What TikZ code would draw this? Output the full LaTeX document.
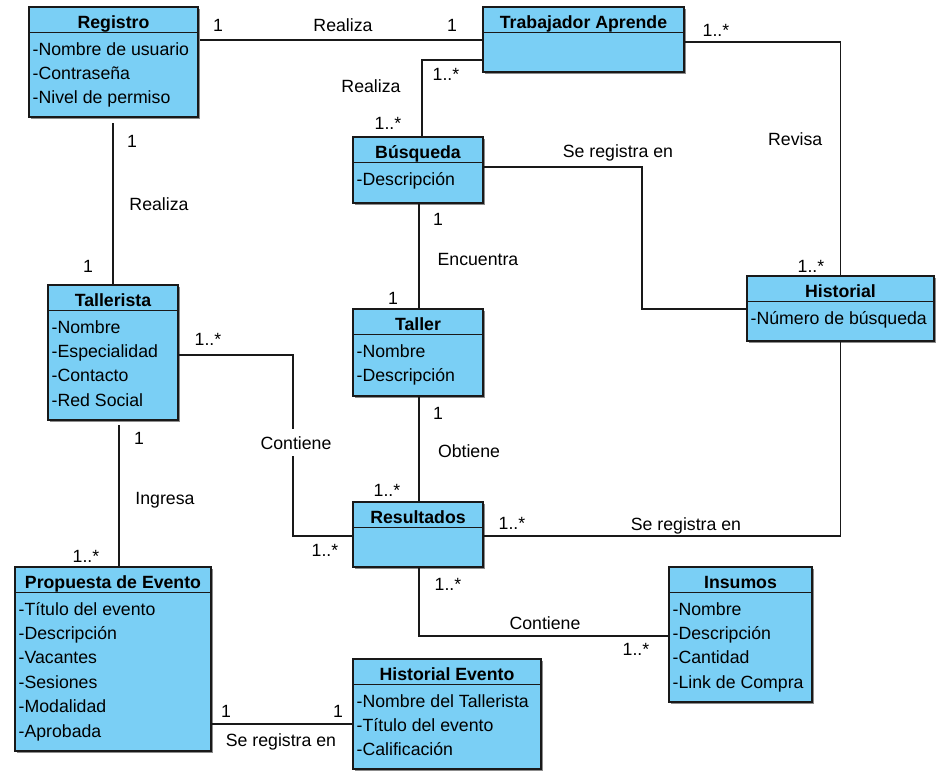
\documentclass[tikz,border=0pt]{standalone}
\usepackage{fontspec}
\setmainfont{Liberation Sans}
\usetikzlibrary{calc,shadows}
\definecolor{clsfill}{RGB}{122,207,245}
\definecolor{edgecol}{RGB}{25,25,25}
\tikzset{
  cls/.style={draw=edgecol, fill=clsfill, line width=1.2pt, inner sep=0pt, outer sep=0pt,
    drop shadow={shadow xshift=1.6pt, shadow yshift=-1.6pt, fill=black!45, opacity=1}},
  ttl/.style={anchor=base, inner sep=0pt, font=\fontsize{17.7}{21}\selectfont\bfseries},
  att/.style={anchor=base west, inner sep=0pt},
  lbl/.style={anchor=base, inner sep=0pt},
  conn/.style={draw=edgecol, line width=1.2pt},
}
\newcommand{\umlbox}[6]{%
  \node[cls, minimum width={#4-#2}, minimum height={#5-#3}, anchor=north west] (#1) at (#2,#3) {};
  \draw[edgecol, line width=1.1pt] ([shift={(0,25.5)}]#1.north west) -- ([shift={(0,25.5)}]#1.north east);
  \node[ttl] (#1t) at ([shift={(0,21)}]#1.north) {#6};
}
\newcommand{\umlattrs}[2]{%
  \foreach \myattr [count=\myi] in {#2} {
    \node[att] (#1a\myi) at ([shift={(3.5,{48+24.4*(\myi-1)})}]#1.north west) {\myattr};
  }%
}
\newcommand{\lab}[4]{\node[lbl] (#1) at (#2,#3) {#4};}
\begin{document}
\begin{tikzpicture}[x=1pt,y=-1pt, font=\fontsize{17.7}{21}\selectfont]
\useasboundingbox (0,0) rectangle (943,774);

% classes
\umlbox{reg}{29}{7}{198}{117}{Registro}
\umlattrs{reg}{-Nombre de usuario,-Contraseña,-Nivel de permiso}
\umlbox{trab}{483}{7}{684}{72}{Trabajador Aprende}
\umlbox{busq}{353}{137}{483}{203}{Búsqueda}
\umlattrs{busq}{-Descripción}
\umlbox{hist}{747}{276}{934}{341}{Historial}
\umlattrs{hist}{-Número de búsqueda}
\umlbox{tal}{48}{285}{178}{420}{Tallerista}
\umlattrs{tal}{-Nombre,-Especialidad,-Contacto,-Red Social}
\umlbox{taller}{353}{309}{483}{396}{Taller}
\umlattrs{taller}{-Nombre,-Descripción}
\umlbox{res}{353}{502}{483}{567}{Resultados}
\umlbox{prop}{15}{567}{211}{751}{Propuesta de Evento}
\umlattrs{prop}{-Título del evento,-Descripción,-Vacantes,-Sesiones,-Modalidad,-Aprobada}
\umlbox{hev}{353}{659}{541}{769}{Historial Evento}
\umlattrs{hev}{-Nombre del Tallerista,-Título del evento,-Calificación}
\umlbox{ins}{669}{567}{812}{702}{Insumos}
\umlattrs{ins}{-Nombre,-Descripción,-Cantidad,-Link de Compra}

% connectors
\draw[conn] ([shift={(2,33)}]reg.north east) -- ([shift={(0,33)}]trab.north west);
\draw[conn] ([shift={(0,53)}]trab.north west) -| ([shift={(69,0)}]busq.north west);
\draw[conn] ([shift={(0,35)}]trab.north east) -| (hist.north);
\draw[conn] ([shift={(0,30)}]busq.north east) -- ++(159,0) |- ([shift={(0,33)}]hist.north west);
\draw[conn] ([shift={(66,0)}]busq.south west) -- ([shift={(66,0)}]taller.north west);
\draw[conn] ([shift={(66,0)}]taller.south west) -- ([shift={(66,0)}]res.north west);
\draw[conn] ([shift={(0,34)}]res.north east) -| (hist.south);
\draw[conn] ([shift={(66,0)}]res.south west) |- ([shift={(0,69)}]ins.north west);
\draw[conn] ($(tal.north |- reg.south)+(0,6)$) -- (tal.north);
\draw[conn] ([shift={(71,5)}]tal.south west) -- ([shift={(104,0)}]prop.north west);
\draw[conn] ([shift={(0,70)}]tal.north east) -- ++(115,0) |- ([shift={(0,34)}]res.north west);
\draw[conn] ([shift={(0,157)}]prop.north east) -- ([shift={(0,65)}]hev.north west);

% labels
\lab{l1}{218}{31}{1}
\lab{l2}{343}{31}{Realiza}
\lab{l3}{452}{31}{1}
\lab{l4}{446}{80}{1..*}
\lab{l5}{371}{92}{Realiza}
\lab{l6}{388}{129}{1..*}
\lab{l7}{716}{36}{1..*}
\node[anchor=base west, inner xsep=0pt, inner ysep=7pt, fill=white] (l8) at (768,145) {Revisa\kern18pt};
\lab{l9}{811}{272}{1..*}
\lab{l10}{618}{157}{Se registra en}
\lab{l11}{438}{225}{1}
\lab{l12}{478}{265}{Encuentra}
\lab{l13}{393}{304}{1}
\lab{l14}{438}{419}{1}
\lab{l15}{469}{457}{Obtiene}
\lab{l16}{387}{496}{1..*}
\lab{l17}{512}{529}{1..*}
\lab{l18}{686}{530}{Se registra en}
\lab{l19}{448}{590}{1..*}
\lab{l20}{545}{629}{Contiene}
\lab{l21}{636}{655}{1..*}
\lab{l22}{132}{147}{1}
\lab{l23}{159}{210}{Realiza}
\lab{l24}{88}{272}{1}
\lab{l25}{139}{444}{1}
\lab{l26}{165}{504}{Ingresa}
\lab{l27}{86}{562}{1..*}
\lab{l28}{208}{345}{1..*}
\node[anchor=base, inner xsep=0pt, inner ysep=7pt, fill=white] (l29) at (296,449) {Contiene};
\lab{l30}{325}{556}{1..*}
\lab{l31}{226}{717}{1}
\lab{l32}{338}{717}{1}
\lab{l33}{281}{746}{Se registra en}
\end{tikzpicture}
\end{document}
